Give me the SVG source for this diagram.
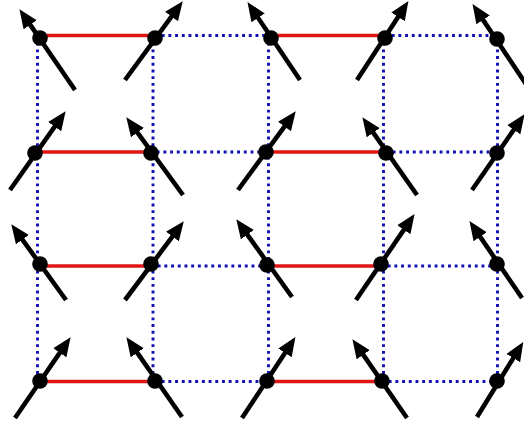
<svg xmlns="http://www.w3.org/2000/svg" width="524" height="423" viewBox="0 0 524 423">
<style>
.bond{stroke:#e01515;stroke-width:3.4;fill:none}
.dot{stroke:#1010b4;stroke-width:2.9;stroke-dasharray:2.9 3.8;fill:none}
.spin{stroke:#000;stroke-width:4.6;fill:none;marker-end:url(#ah)}
.site{fill:#000}
</style>
<defs>
<marker id="ah" markerUnits="userSpaceOnUse" markerWidth="22" markerHeight="18" viewBox="0 -9 22 18" refX="12" refY="0" orient="auto">
<path d="M0,-8 L19,0 L0,8 z" fill="#000"/>
</marker>
</defs>
<rect width="524" height="423" fill="#fff"/>
<g id="connectors">
<line class="dot" x1="37.5" y1="36" x2="37.5" y2="382"/>
<line class="dot" x1="153" y1="36" x2="153" y2="382"/>
<line class="dot" x1="268.5" y1="36" x2="268.5" y2="382"/>
<line class="dot" x1="383.5" y1="36" x2="383.5" y2="382"/>
<line class="dot" x1="497.5" y1="36" x2="497.5" y2="382"/>
<line class="dot" x1="155" y1="35.5" x2="271" y2="35.5"/>
<line class="dot" x1="385" y1="35.5" x2="497" y2="35.5"/>
<line class="dot" x1="150" y1="152" x2="266" y2="152"/>
<line class="dot" x1="386" y1="152" x2="497" y2="152"/>
<line class="dot" x1="151" y1="266" x2="267" y2="266"/>
<line class="dot" x1="381" y1="266" x2="497" y2="266"/>
<line class="dot" x1="155" y1="381.5" x2="267" y2="381.5"/>
<line class="dot" x1="382" y1="381.5" x2="497" y2="381.5"/>
<line class="bond" x1="40" y1="35.5" x2="155" y2="35.5"/>
<line class="bond" x1="271" y1="35.5" x2="385" y2="35.5"/>
<line class="bond" x1="35" y1="152" x2="150" y2="152"/>
<line class="bond" x1="266" y1="152" x2="386" y2="152"/>
<line class="bond" x1="40" y1="266" x2="151" y2="266"/>
<line class="bond" x1="267" y1="266" x2="381" y2="266"/>
<line class="bond" x1="40" y1="381.5" x2="155" y2="381.5"/>
<line class="bond" x1="267" y1="381.5" x2="382" y2="381.5"/>
</g>
<g id="n11"><line class="spin" x1="75" y1="90" x2="23.4" y2="14.9"/><circle class="site" cx="40" cy="38" r="7.8"/></g>
<g id="n12"><line class="spin" x1="125" y1="80" x2="178.6" y2="6.9"/><circle class="site" cx="155" cy="38" r="7.8"/></g>
<g id="n13"><line class="spin" x1="300" y1="80" x2="251.4" y2="7.9"/><circle class="site" cx="271" cy="38" r="7.8"/></g>
<g id="n14"><line class="spin" x1="357" y1="80" x2="404.6" y2="6.9"/><circle class="site" cx="385" cy="38" r="7.8"/></g>
<g id="n15"><line class="spin" x1="530" y1="90" x2="476.4" y2="9.9"/><circle class="site" cx="497" cy="39" r="7.8"/></g>
<g id="n21"><line class="spin" x1="10" y1="190" x2="61.6" y2="116.9"/><circle class="site" cx="35" cy="153" r="7.8"/></g>
<g id="n22"><line class="spin" x1="183" y1="195" x2="130.4" y2="122.9"/><circle class="site" cx="151" cy="153" r="7.8"/></g>
<g id="n23"><line class="spin" x1="238" y1="190" x2="291.6" y2="116.9"/><circle class="site" cx="266" cy="152" r="7.8"/></g>
<g id="n24"><line class="spin" x1="417" y1="195" x2="366.4" y2="122.9"/><circle class="site" cx="386" cy="153" r="7.8"/></g>
<g id="n25"><line class="spin" x1="472" y1="190" x2="520.6" y2="119.9"/><circle class="site" cx="497" cy="153" r="7.8"/></g>
<g id="n31"><line class="spin" x1="66" y1="300" x2="15.4" y2="229.9"/><circle class="site" cx="40" cy="264" r="7.8"/></g>
<g id="n32"><line class="spin" x1="125" y1="300" x2="179.6" y2="226.9"/><circle class="site" cx="151" cy="264" r="7.8"/></g>
<g id="n33"><line class="spin" x1="292" y1="297" x2="240.4" y2="224.9"/><circle class="site" cx="267" cy="265" r="7.8"/></g>
<g id="n34"><line class="spin" x1="356" y1="300" x2="410.6" y2="219.9"/><circle class="site" cx="381" cy="264" r="7.8"/></g>
<g id="n35"><line class="spin" x1="522" y1="298" x2="473.4" y2="226.9"/><circle class="site" cx="497" cy="264" r="7.8"/></g>
<g id="n41"><line class="spin" x1="15" y1="418" x2="66.6" y2="342.9"/><circle class="site" cx="40" cy="381" r="7.8"/></g>
<g id="n42"><line class="spin" x1="182" y1="417" x2="130.4" y2="342.9"/><circle class="site" cx="155" cy="381" r="7.8"/></g>
<g id="n43"><line class="spin" x1="242" y1="418" x2="291.6" y2="342.9"/><circle class="site" cx="267" cy="381" r="7.8"/></g>
<g id="n44"><line class="spin" x1="407" y1="418" x2="356.4" y2="344.9"/><circle class="site" cx="382" cy="381" r="7.8"/></g>
<g id="n45"><line class="spin" x1="477" y1="417" x2="519.6" y2="347.9"/><circle class="site" cx="497" cy="381" r="7.8"/></g>
</svg>
